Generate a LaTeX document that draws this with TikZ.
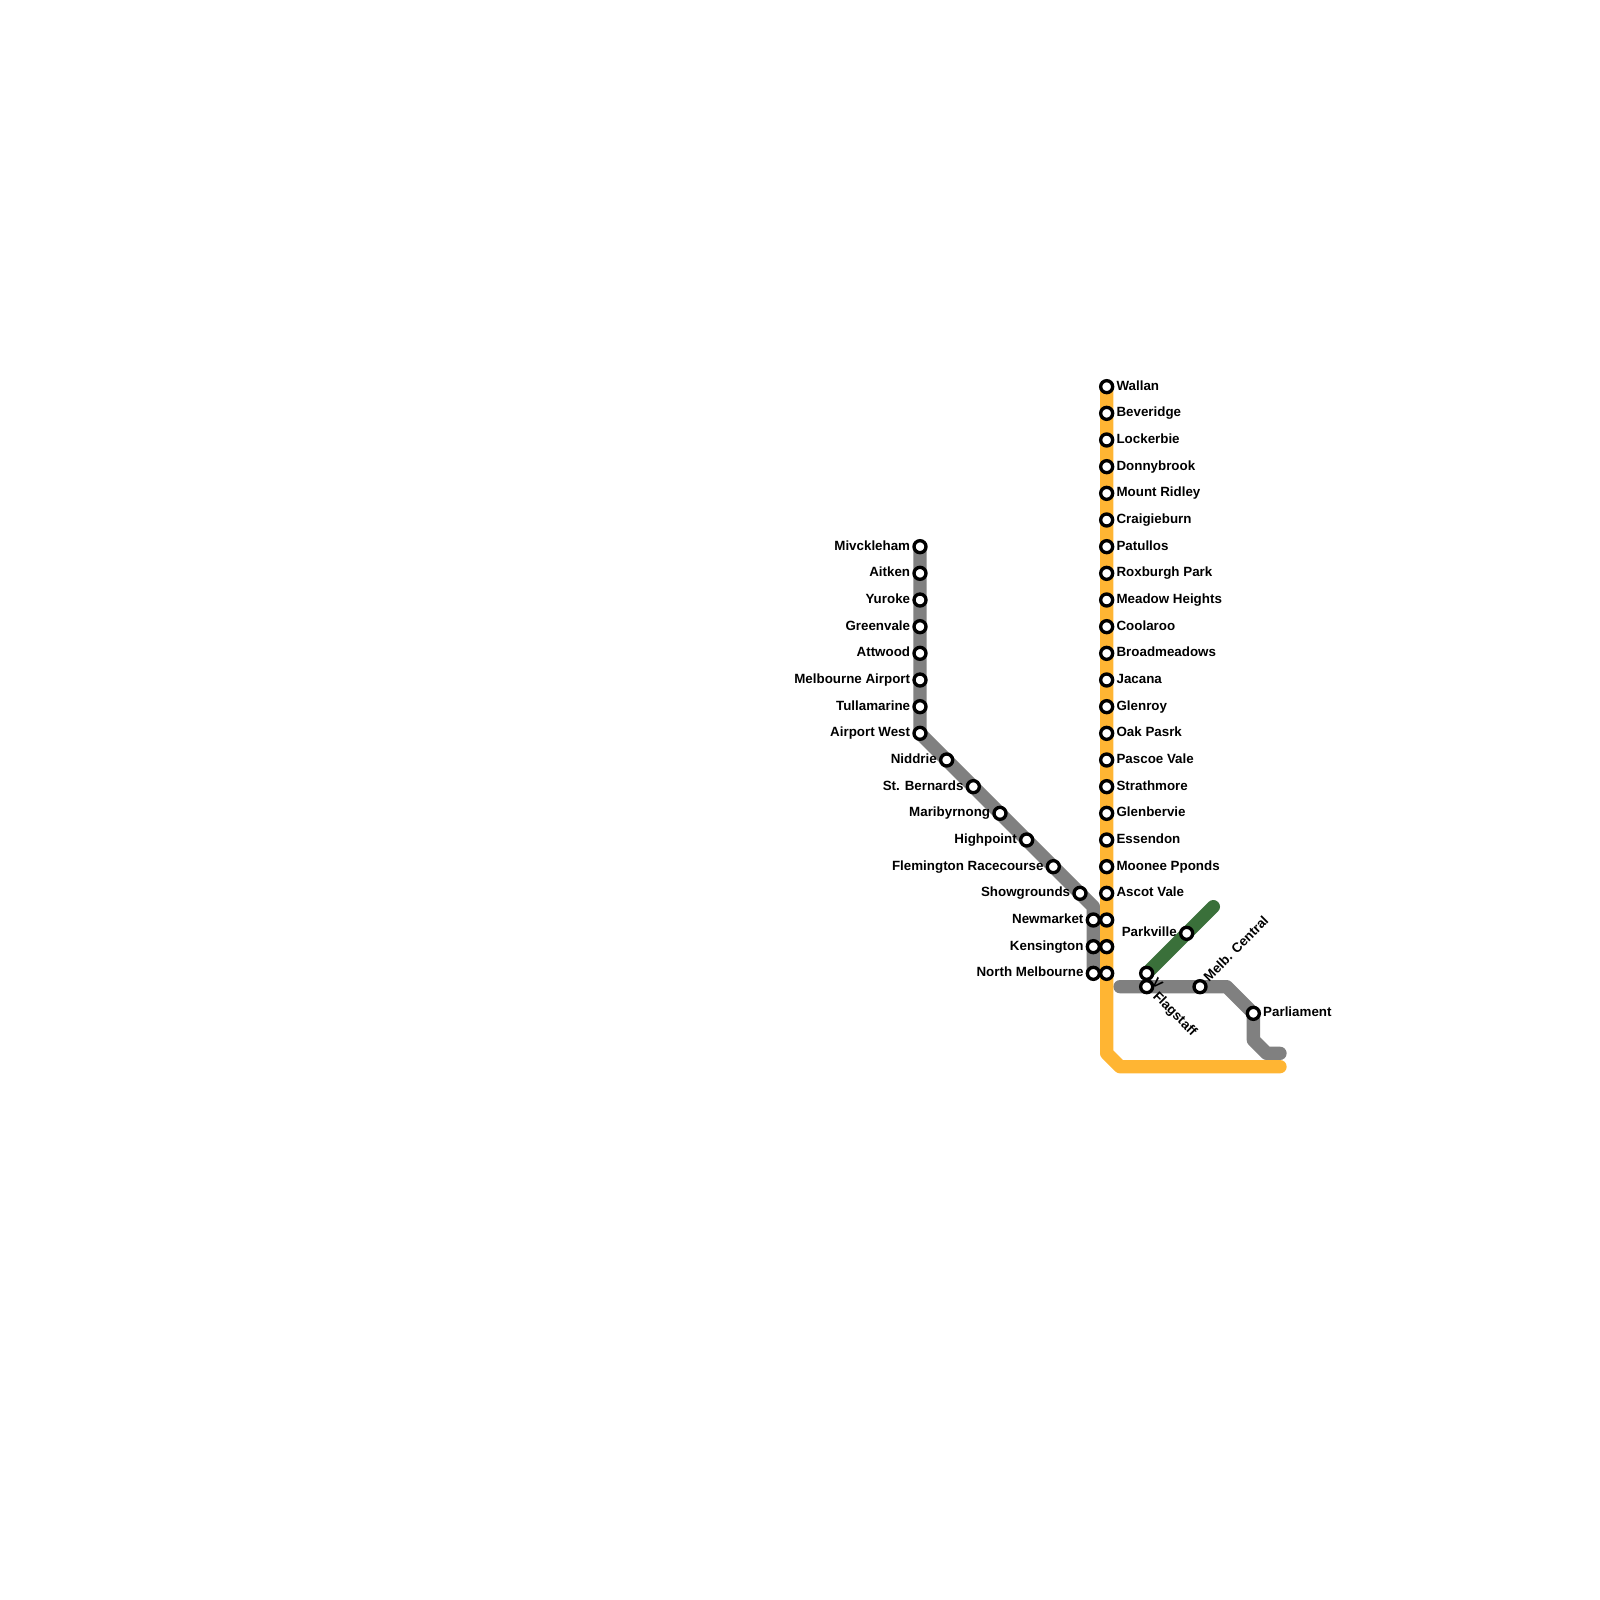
\documentclass[tikz,border=0pt]{standalone}
\usepackage{fontspec}
\setmainfont{Liberation Sans}
\usetikzlibrary{positioning,backgrounds}
\definecolor{lineorange}{RGB}{255,181,51}
\definecolor{linegrey}{RGB}{128,128,128}
\definecolor{linegreen}{RGB}{58,112,58}
\tikzset{
  stop/.style={circle,draw=black,fill=white,line width=1mm,inner sep=0pt,outer sep=0pt,minimum size=3.6mm},
  tag/.style={font=\bfseries\fontsize{11.4pt}{13pt}\selectfont,inner sep=0pt,text height=8.3pt,text depth=2.6pt}
}
\tikzset{route/.style={line width=4mm,line cap=round,line join=round}}
\begin{document}
\begin{tikzpicture}[x=4mm,y=-4mm]
  \useasboundingbox (0,0) rectangle (120,120);
  % orange line, labels on the right
  \foreach \name/\txt [count=\i from 0] in {wallan/Wallan,beveridge/Beveridge,lockerbie/Lockerbie,donnybrook/Donnybrook,mountridley/Mount Ridley,craigieburn/Craigieburn,patullos/Patullos,roxburgh/Roxburgh Park,meadow/Meadow Heights,coolaroo/Coolaroo,broadmeadows/Broadmeadows,jacana/Jacana,glenroy/Glenroy,oakpark/Oak Pasrk,pascoe/Pascoe Vale,strathmore/Strathmore,glenbervie/Glenbervie,essendon/Essendon,moonee/Moonee Pponds,ascot/Ascot Vale}{
    \node[stop] (\name) at (83,29+2*\i) {};
    \node[tag,right=1.1mm of \name] (\name tag) {\txt};
  }
  \node[stop] (orangeA) at (83,69) {};
  \node[stop] (orangeB) at (83,71) {};
  \node[stop] (orangeC) at (83,73) {};
  % grey line, labels on the left
  \foreach \name/\txt [count=\i from 0] in {mickleham/Mivckleham,aitken/Aitken,yuroke/Yuroke,greenvale/Greenvale,attwood/Attwood,airport/Melbourne Airport,tullamarine/Tullamarine,airportwest/Airport West}{
    \node[stop] (\name) at (69,41+2*\i) {};
    \node[tag,left=1.1mm of \name] (\name tag) {\txt};
  }
  \foreach \name/\txt [count=\i from 0] in {niddrie/Niddrie,bernards/St. Bernards,maribyrnong/Maribyrnong,highpoint/Highpoint,flemington/Flemington Racecourse,showgrounds/Showgrounds}{
    \node[stop] (\name) at (71+2*\i,57+2*\i) {};
    \node[tag,left=1.1mm of \name] (\name tag) {\txt};
  }
  \foreach \name/\txt [count=\i from 0] in {newmarket/Newmarket,kensington/Kensington,northmelb/North Melbourne}{
    \node[stop] (\name) at (82,69+2*\i) {};
    \node[tag,left=1.1mm of \name] (\name tag) {\txt};
  }
  % city loop
  \node[stop] (flagstaffA) at (86,73) {};
  \node[stop] (flagstaff) at (86,74) {};
  \node[stop] (parkville) at (89,70) {};
  \node[stop] (melbcentral) at (90,74) {};
  \node[stop] (parliament) at (94,76) {};
  \node[tag,left=1.1mm of parkville] (parkvilletag) {Parkville};
  \node[tag,right=1.1mm of parliament] (parliamenttag) {Parliament};
  \node[tag,rotate=45,anchor=west] (melbtag) at (90.5,73.5) {Melb. Central};
  \node[tag,rotate=-45,anchor=west] (flagstafftag) at (86.6,74.6) {Flagstaff};
  \node[tag,rotate=-45,anchor=west] (victag) at (86.5,73.6) {V};
  % free ends and bends
  \coordinate (bendA) at (83,79);
  \coordinate (bendB) at (84,80);
  \coordinate (orangeend) at (96,80);
  \coordinate (bendC) at (82,68);
  \coordinate (greystart) at (84,74);
  \coordinate (bendD) at (92,74);
  \coordinate (bendE) at (94,78);
  \coordinate (bendF) at (95,79);
  \coordinate (greyend) at (96,79);
  \coordinate (greenend) at (91,68);
  \begin{pgfonlayer}{background}
    \draw[route,linegrey] (mickleham.center) -- (airportwest.center) -- (bendC) -- (northmelb.center);
    \draw[route,linegrey] (greystart) -- (bendD) -- (parliament.center) -- (bendE) -- (bendF) -- (greyend);
    \draw[route,linegreen] (flagstaffA.center) -- (greenend);
    \draw[route,lineorange] (wallan.center) -- (bendA) -- (bendB) -- (orangeend);
  \end{pgfonlayer}
\end{tikzpicture}
\end{document}
